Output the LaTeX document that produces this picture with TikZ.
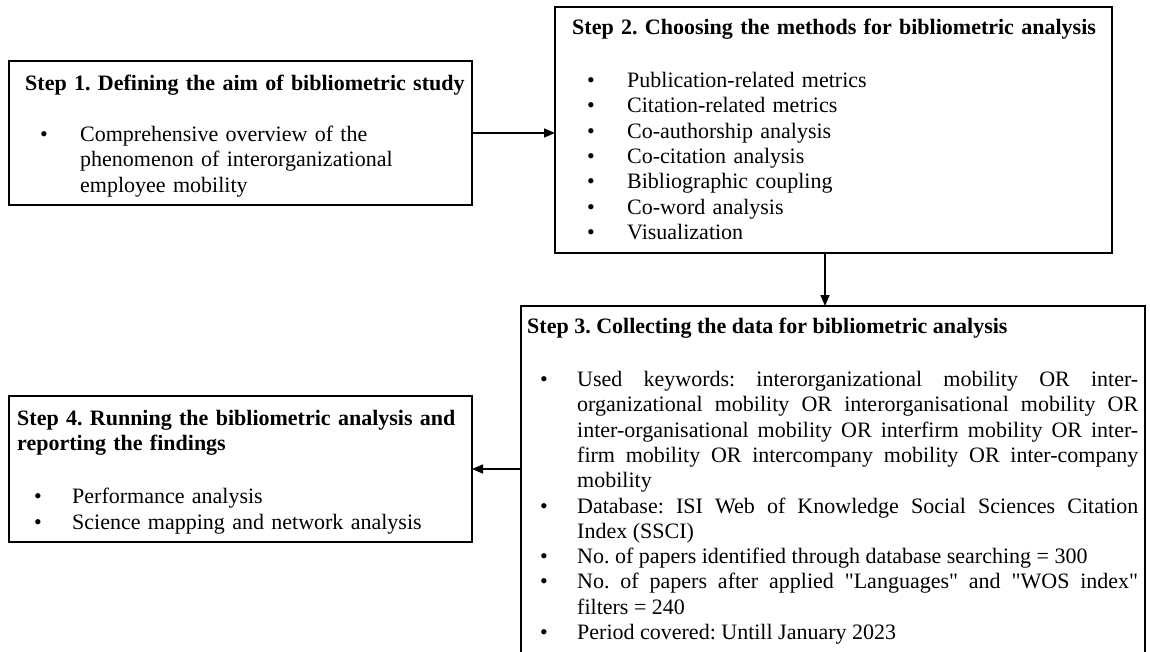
\documentclass[tikz,border=0pt]{standalone}
\usepackage{fontspec}
\setmainfont{Liberation Serif}
\usetikzlibrary{arrows.meta}
\frenchspacing
\newcommand\bitem[3]{\par\noindent\hangindent=#1\hangafter=1\makebox[#1][l]{\hspace{#2}\textbullet}#3}
\newcommand\blankln{\par\vspace{28pt}}
\newcommand\nl{\hfil\break}
\tikzset{
  stepbox/.style={draw, line width=1.6pt, anchor=north west, inner sep=0pt, outer sep=0pt},
  txt/.style={anchor=north west, inner sep=0pt, align=left,
    font=\fontsize{22pt}{25.3pt}\selectfont\frenchspacing},
  conn/.style={line width=1.4pt, -{Triangle[length=11pt,width=9pt]}}
}
\begin{document}
\begin{tikzpicture}[x=1pt,y=-1pt]
\clip (0,0) rectangle (1150,651);
\fill[white] (0,0) rectangle (1150,651);
% boxes
\node[stepbox, minimum width=463pt, minimum height=144pt] (box1) at (9,61) {};
\node[stepbox, minimum width=557pt, minimum height=246pt] (box2) at (555,7) {};
\node[stepbox, minimum width=624pt, minimum height=380pt] (box3) at (521,306) {};
\node[stepbox, minimum width=463pt, minimum height=146pt] (box4) at (9,396) {};
% texts
\node[txt, text width=445pt] (t1) at (25,72) {\rule{0pt}{18pt}\textbf{Step 1. Defining the aim of bibliometric study}\par\vspace{26pt}
\bitem{55pt}{15pt}{Comprehensive overview of the\nl phenomenon of interorganizational\nl employee mobility}\par};
\node[txt, text width=540pt] (t2) at (572,16) {\rule{0pt}{18pt}\textbf{Step 2. Choosing the methods for bibliometric analysis}\blankln
\bitem{55pt}{15pt}{Publication-related metrics}
\bitem{55pt}{15pt}{Citation-related metrics}
\bitem{55pt}{15pt}{Co-authorship analysis}
\bitem{55pt}{15pt}{Co-citation analysis}
\bitem{55pt}{15pt}{Bibliographic coupling}
\bitem{55pt}{15pt}{Co-word analysis}
\bitem{55pt}{15pt}{Visualization}\par};
\node[txt, text width=611pt, align=justify] (t3) at (527,315) {\tolerance=10000\hyphenpenalty=10000\rule{0pt}{18pt}\textbf{Step 3. Collecting the data for bibliometric analysis}\blankln
\bitem{50pt}{13pt}{Used keywords: interorganizational mobility OR inter-\linebreak organizational mobility OR interorganisational mobility OR\linebreak inter-organisational mobility OR interfirm mobility OR inter-\linebreak firm mobility OR intercompany mobility OR inter-company\linebreak mobility}
\bitem{50pt}{13pt}{Database: ISI Web of Knowledge Social Sciences Citation\linebreak Index (SSCI)}
\bitem{50pt}{13pt}{No. of papers identified through database searching = 300}
\bitem{50pt}{13pt}{No. of papers after applied \textquotedbl Languages\textquotedbl{} and \textquotedbl WOS index\textquotedbl\linebreak filters = 240}
\bitem{50pt}{13pt}{Period covered: Untill January 2023}\par};
\node[txt, text width=450pt] (t4) at (17,407) {\rule{0pt}{18pt}\textbf{Step 4. Running the bibliometric analysis and}\nl \textbf{reporting the findings}\blankln
\bitem{55pt}{17pt}{Performance analysis}
\bitem{55pt}{17pt}{Science mapping and network analysis}\par};
% connectors
\coordinate (a2x) at (825,0);
\draw[conn] (box1.east) -- (box1.east -| box2.west);
\draw[conn] (box2.south -| a2x) -- (box3.north -| a2x);
\draw[conn] (box4.east -| box3.west) -- (box4.east);
\end{tikzpicture}
\end{document}
